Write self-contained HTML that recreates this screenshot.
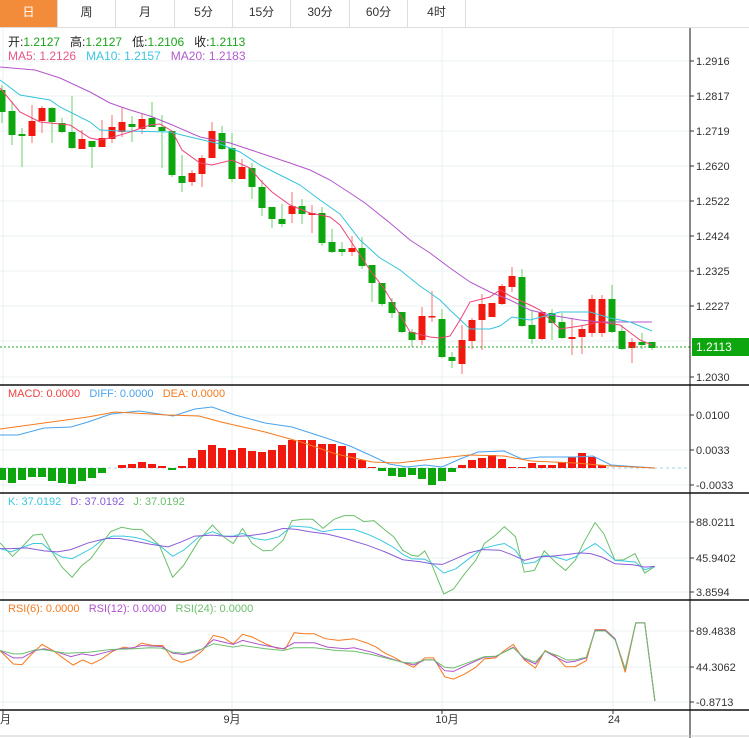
<!DOCTYPE html>
<html><head><meta charset="utf-8"><style>
body{margin:0;width:749px;height:738px;overflow:hidden;background:#fff;font-family:"Liberation Sans","Noto Sans CJK SC",sans-serif;}
.tb{position:absolute;left:0;top:0;height:27px;width:749px;border-bottom:1px solid #ddd;}
.tb div{position:absolute;top:0;height:27px;line-height:25px;text-align:center;font-size:12px;color:#333;border-right:1px solid #ddd;}
.lab{position:absolute;font-size:12px;white-space:nowrap;}
</style></head><body>
<div class="tb">
<div style="left:0;width:57px;background:#f28c3b;color:#fff">日</div>
<div style="left:58px;width:57px">周</div>
<div style="left:116px;width:58px">月</div>
<div style="left:175px;width:57px">5分</div>
<div style="left:233px;width:57px">15分</div>
<div style="left:291px;width:58px">30分</div>
<div style="left:350px;width:57px">60分</div>
<div style="left:408px;width:57px">4时</div>
</div>
<svg id="s" width="749" height="738" style="position:absolute;left:0;top:0" xmlns="http://www.w3.org/2000/svg"></svg>
<div class="lab" style="left:8px;top:33px;color:#222">开:<span style="color:#1aa51a">1.2127</span>&nbsp;&nbsp; 高:<span style="color:#1aa51a">1.2127</span>&nbsp;&nbsp; 低:<span style="color:#1aa51a">1.2106</span>&nbsp;&nbsp; 收:<span style="color:#1aa51a">1.2113</span></div>
<div class="lab" style="left:8px;top:49px"><span style="color:#e8568a">MA5: 1.2126</span>&nbsp;&nbsp; <span style="color:#3cc6e0">MA10: 1.2157</span>&nbsp;&nbsp; <span style="color:#b25ccc">MA20: 1.2183</span></div>
<div class="lab" style="left:8px;top:388px;font-size:11px"><span style="color:#f04040">MACD: 0.0000</span>&nbsp;&nbsp; <span style="color:#4aa3ee">DIFF: 0.0000</span>&nbsp;&nbsp; <span style="color:#f57a1f">DEA: 0.0000</span></div>
<div class="lab" style="left:8px;top:496px;font-size:11px"><span style="color:#3cc8e0">K: 37.0192</span>&nbsp;&nbsp; <span style="color:#8b5cd6">D: 37.0192</span>&nbsp;&nbsp; <span style="color:#6cbf6c">J: 37.0192</span></div>
<div class="lab" style="left:8px;top:603px;font-size:11px"><span style="color:#f57a1f">RSI(6): 0.0000</span>&nbsp;&nbsp; <span style="color:#b052cc">RSI(12): 0.0000</span>&nbsp;&nbsp; <span style="color:#6cbf6c">RSI(24): 0.0000</span></div>
<script>
var s=document.getElementById('s'),h='';
function L(x1,y1,x2,y2,c,w,d){h+='<line x1="'+x1+'" y1="'+y1+'" x2="'+x2+'" y2="'+y2+'" stroke="'+c+'" stroke-width="'+(w||1)+'"'+(d?' stroke-dasharray="'+d+'"':'')+'/>';}
function T(x,y,t,a){h+='<text x="'+x+'" y="'+y+'" font-size="11" fill="#333" font-family="Liberation Sans,Noto Sans CJK SC,sans-serif"'+(a?' text-anchor="'+a+'"':'')+'>'+t+'</text>';}
function P(pts,c,sx,sy,oy){var p=[];for(var i=0;i<pts.length;i+=2)p.push((pts[i]*sx).toFixed(1)+','+(oy+pts[i+1]*sy).toFixed(1));h+='<polyline points="'+p.join(' ')+'" fill="none" stroke="'+c+'" stroke-width="1"/>';}
var g='#e8f0f3';
[61,96,131,166,201,236,271,306,341,377].forEach(function(y){L(0,y,690,y,g)});
[415,450,485].forEach(function(y){L(0,y,690,y,g)});
[522,558,592].forEach(function(y){L(0,y,690,y,g)});
[631,667,702].forEach(function(y){L(0,y,690,y,g)});
[3,232,442,613].forEach(function(x){L(x,28,x,710,g)});
var C=[[90,112,85,123,0],[111,135,101,145,0],[134,136,128,167,0],[136,121,105,143,1],[121,108,106,133,1],[108,122,107,143,0],[123,132,118,133,0],[132,148,96,149,0],[149,139,130,149,1],[141,147,141,168,0],[147,138,120,147,1],[139,127,115,143,1],[132,122,107,137,1],[124,127,116,142,0],[129,119,113,134,1],[118,127,102,127,0],[127,131,115,168,0],[131,175,131,177,0],[176,183,155,192,0],[182,173,170,186,1],[174,158,155,187,1],[158,131,122,158,1],[133,149,126,150,0],[148,179,133,182,0],[179,167,159,179,1],[168,187,163,199,0],[187,208,180,216,0],[207,219,207,228,0],[219,224,204,227,0],[214,206,192,223,1],[206,214,199,224,0],[215,213,205,233,1],[213,243,207,246,0],[242,252,229,253,0],[249,252,242,256,0],[252,248,236,256,1],[248,266,237,269,0],[265,283,265,302,0],[283,304,283,306,0],[302,313,298,318,0],[312,332,312,333,0],[332,340,329,347,0],[340,316,307,345,1],[317,316,291,322,1],[319,357,309,358,0],[357,361,352,368,0],[364,340,325,374,1],[341,320,318,349,1],[320,304,294,350,1],[317,303,303,317,1],[304,286,284,305,1],[287,276,267,292,1],[277,326,269,327,0],[325,339,310,344,0],[339,312,311,340,1],[313,323,309,340,0],[322,338,313,339,0],[339,337,319,355,1],[337,329,325,354,1],[333,299,295,337,1],[333,299,295,337,1],[299,332,285,333,0],[331,349,325,350,0],[348,342,338,363,1],[342,345,333,349,0],[342,348,342,350,0]];
C.forEach(function(c,i){var x=2+10*i,col=c[4]?'#f0180f':'#0ea60e',wc=c[4]?'#f57070':'#6fcf6f';L(x,c[2],x,c[3],wc);var t=Math.min(c[0],c[1]),b=Math.max(c[0],c[1]);h+='<rect x="'+(x-3.5)+'" y="'+t+'" width="7" height="'+Math.max(b-t,1.5)+'" fill="'+col+'"/>';});
P([0,67,35,70,60,78,90,92,110,103,130,110,150,116,170,124,200,137,230,143,260,153,290,163,310,170,330,180,350,193,365,203,390,223,410,240,430,253,450,268,470,282,490,292,510,300,530,310,550,315,580,320,600,322,620,322,652,322],'#b455cc',1,1,0);
P([0,80,20,95,50,100,60,107,90,122,100,130,120,131,170,132,190,137,220,144,240,152,260,165,280,175,300,185,320,200,340,214,360,240,380,258,400,270,420,286,440,300,450,310,470,329,490,329,500,326,512,317,530,320,545,316,560,312,590,312,610,318,630,322,652,331],'#33c4dd',1,1,0);
P([0,88,10,100,20,112,40,122,60,124,70,125,90,138,100,140,110,138,130,132,150,125,160,124,172,131,182,150,200,163,212,165,232,160,250,168,260,180,272,192,290,205,310,213,330,217,340,225,350,240,370,270,385,290,400,315,410,332,430,337,440,338,450,336,460,320,470,302,490,297,500,290,512,297,530,305,540,310,560,329,580,326,600,322,620,325,640,340,652,345],'#ee4477',1,1,0);
L(0,347,690,347,'#2aa52a',1,'2,2');
L(0,468,690,468,'#9fd5ea',1,'3,3');
var M=[-12,-15,-12,-9,-9,-13,-15,-16,-13,-10,-5,0,3,4,6,4,2,-2,2,10,18,23,20,18,20,17,16,18,23,28,28,28,24,24,22,15,8,1,-3,-8,-9,-7,-11,-17,-13,-4,3,8,10,13,9,1,1,5,3,3,6,11,15,11,3];
M.forEach(function(v,i){var x=2+10*i;if(v==0)return;h+='<rect x="'+(x-4)+'" y="'+(v>0?468-v:468)+'" width="8" height="'+Math.abs(v)+'" fill="'+(v>0?'#f0180f':'#0ea60e')+'"/>';});
P([0,435,18,435,44,428,71,427,88,422,111,414,139,411,173,416,195,409,212,407,235,415,265,423,292,427,323,437,350,446,372,456,389,464,407,467,425,465,442,467,460,459,478,452,504,451,522,459,540,457,575,457,593,456,611,465,655,468],'#4aa3ee',1,1,0);
P([0,429,44,423,88,417,115,412,168,415,199,416,221,422,265,432,301,442,336,454,372,462,398,463,442,458,469,455,504,456,531,461,575,463,611,466,655,468],'#f57a1f',1,1,0);
var sx=1/2.26,sy=1/2.97;
P([0,148,28,188,50,160,75,125,95,122,115,170,140,220,163,250,185,215,205,195,230,150,250,115,275,102,300,108,320,108,360,155,390,250,415,215,450,140,480,95,505,130,527,150,548,105,570,150,595,172,615,170,640,140,660,82,685,78,707,78,730,105,755,78,778,67,800,67,822,85,845,82,870,110,890,130,910,170,930,185,945,188,960,172,975,210,1003,300,1025,285,1050,240,1075,200,1095,150,1120,125,1140,100,1165,130,1185,235,1208,230,1230,172,1255,205,1278,230,1300,200,1320,145,1345,88,1365,122,1390,200,1410,198,1435,180,1457,238,1480,218],'#6cbf6c',sx,sy,493);
P([0,165,25,175,50,162,75,150,95,150,115,172,140,190,163,195,185,180,210,162,230,140,255,128,280,128,305,132,330,140,360,155,390,188,415,170,450,130,480,115,505,128,527,128,548,120,575,135,600,140,630,130,660,98,700,102,730,115,760,108,800,108,830,122,860,140,890,162,910,182,930,195,960,197,975,208,1003,238,1030,225,1060,195,1090,165,1120,155,1140,150,1165,170,1185,210,1210,205,1230,185,1255,190,1280,200,1300,190,1320,170,1345,150,1365,170,1390,200,1435,205,1457,228,1480,218],'#3cc8e0',sx,sy,493);
P([0,165,25,165,60,163,100,172,130,175,160,168,200,148,240,135,270,135,300,142,340,152,380,160,410,145,440,128,480,125,520,130,560,127,600,120,640,105,670,108,700,115,740,122,780,135,830,155,870,175,910,198,950,204,975,210,1000,212,1030,195,1060,178,1090,168,1130,170,1160,185,1185,200,1215,190,1245,188,1280,183,1310,178,1335,180,1360,190,1390,210,1430,213,1457,220,1480,218],'#8b5cd6',sx,sy,493);
P([0,150,30,190,50,192,72,160,95,132,120,150,140,170,165,193,187,178,207,190,230,175,255,152,280,140,300,145,320,128,345,135,368,135,390,175,410,185,432,176,458,150,482,105,505,112,527,130,548,102,570,110,600,130,625,143,645,145,665,97,687,100,710,100,735,115,765,120,800,115,830,128,850,140,870,158,890,170,910,185,935,200,960,172,980,172,1005,228,1025,235,1050,220,1075,200,1095,175,1120,172,1140,150,1160,132,1185,178,1210,202,1232,150,1255,165,1278,198,1300,198,1325,180,1345,88,1368,88,1390,115,1413,215,1437,68,1457,68,1480,300],'#f57a1f',sx,sy,600);
P([0,150,30,172,50,172,80,150,100,145,130,155,160,168,185,160,210,165,240,155,270,145,300,142,320,135,365,138,390,158,415,162,440,155,458,145,482,118,505,125,527,132,548,120,590,133,640,145,665,127,710,127,740,140,780,145,800,142,840,155,880,173,910,185,935,193,960,178,980,178,1005,210,1025,212,1060,190,1095,170,1120,168,1160,140,1185,175,1210,190,1232,152,1260,172,1280,185,1300,182,1325,172,1345,90,1368,90,1390,115,1413,205,1437,68,1457,68,1480,300],'#b052cc',sx,sy,600);
P([0,150,30,160,50,160,80,148,100,148,150,158,200,155,250,147,300,145,340,142,365,143,390,155,420,158,458,145,482,130,527,140,548,135,600,145,640,150,665,142,710,142,760,150,800,152,840,162,880,175,910,185,935,188,960,178,980,178,1005,200,1025,202,1060,185,1095,168,1120,167,1160,142,1185,172,1210,185,1232,152,1260,165,1280,178,1300,178,1325,170,1345,92,1368,92,1390,118,1413,205,1437,68,1457,68,1480,300],'#6cbf6c',sx,sy,600);
[385,493,600,710].forEach(function(y){L(0,y,749,y,'#111',1.5)});
L(690,28,690,738,'#111',1);
L(0,736,749,736,'#ccc',1);
var Y=[[61,'1.2916'],[96,'1.2817'],[131,'1.2719'],[166,'1.2620'],[201,'1.2522'],[236,'1.2424'],[271,'1.2325'],[306,'1.2227'],[377,'1.2030'],[415,'0.0100'],[450,'0.0033'],[485,'-0.0033'],[522,'88.0211'],[558,'45.9402'],[592,'3.8594'],[631,'89.4838'],[667,'44.3062'],[702,'-0.8713']];
Y.forEach(function(t){L(690,t[0],694,t[0],'#333');T(696,t[0]+4,t[1]);});
h+='<rect x="692" y="338" width="57" height="18" fill="#0ea60e"/>';
h+='<text x="696" y="351" font-size="12" fill="#fff" font-family="Liberation Sans,sans-serif">1.2113</text>';
[3,232,442,613].forEach(function(x){L(x,710,x,714,'#333')});
T(0,723,'月');T(232,723,'9月','middle');T(447,723,'10月','middle');T(614,723,'24','middle');
s.innerHTML=h;
</script>
</body></html>
